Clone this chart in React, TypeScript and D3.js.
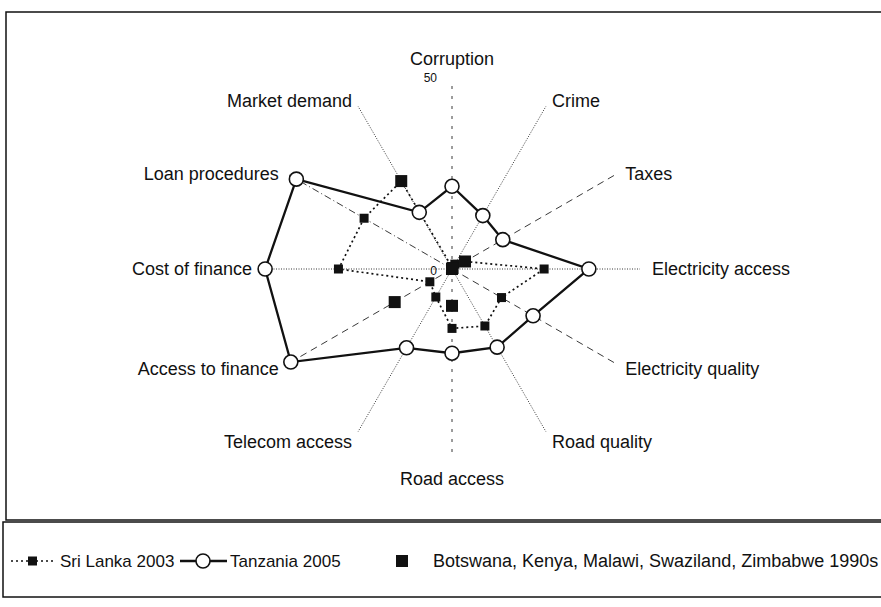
import React from 'react';
import * as d3 from 'd3';

// categories clockwise from the top
const categories = [
  'Corruption', 'Crime', 'Taxes', 'Electricity access', 'Electricity quality', 'Road quality',
  'Road access', 'Telecom access', 'Access to finance', 'Cost of finance', 'Loan procedures', 'Market demand',
];
const sriLanka = [0.5, 1.5, 4, 24.5, 15.2, 17.5, 15.8, 8.6, 6.8, 30.2, 27, 27];
const tanzania = [22, 16.4, 15.6, 36.4, 24.9, 24, 22.4, 24.2, 49.5, 49.7, 47.8, 17.4];
const africa = [0, 0.3, 4, 0, 0, 0, 9.8, 0, 17.6, 0, 0, 27];
const axisMax = 50;

const legendLabels = ['Sri Lanka 2003', 'Tanzania 2005', 'Botswana, Kenya, Malawi, Swaziland, Zimbabwe 1990s'];

// each spoke has its own line style in the original
const spokeDash = ['3,7', '1,1.5', '7,5', '1,1.5', '7,5', '1,1.5', '3,7', '1,1.5', '7,5', '1,1.5', '7,3,1,3', '1,1.5'];

const W = 881, H = 607;
const cx = 452, cy = 269, R = 188;
const font = '"Liberation Sans", Arial, sans-serif';

export default function App() {
  const r = d3.scaleLinear().domain([0, axisMax]).range([0, R]);
  const step = (2 * Math.PI) / categories.length;
  const ang = (i: number) => i * step;
  const px = (i: number, v: number) => cx + r(v) * Math.sin(ang(i));
  const py = (i: number, v: number) => cy - r(v) * Math.cos(ang(i));

  const radar = d3.lineRadial<number>()
    .angle((d, i) => ang(i))
    .radius(d => r(d))
    .curve(d3.curveLinearClosed);

  return (
    <svg width={W} height={H} style={{ position: 'absolute', left: 0, top: 0, background: '#fff' }}
      fontFamily={font}>
      {/* frames */}
      <rect x={6} y={12} width={900} height={508} fill="none" stroke="#111" strokeWidth={1.5} />
      <rect x={3} y={522} width={900} height={75} fill="none" stroke="#111" strokeWidth={1.5} />

      {/* spokes */}
      {categories.map((c, i) => (
        <line key={c} x1={cx} y1={cy} x2={px(i, axisMax)} y2={py(i, axisMax)}
          stroke="#222" strokeWidth={0.9} strokeDasharray={spokeDash[i]} />
      ))}

      {/* category labels */}
      {categories.map((c, i) => {
        const s = Math.sin(ang(i)), co = Math.cos(ang(i));
        if (Math.abs(s) < 0.01) {
          return (
            <text key={c} x={cx} y={cy - co * (R + 22)} textAnchor="middle" dominantBaseline="central"
              fontSize={18} fill="#111">{c}</text>
          );
        }
        const lr = R + 12;
        return (
          <text key={c} x={cx + s * lr} y={cy - co * lr + (co > 0.1 ? 5 : 0)}
            textAnchor={s > 0 ? 'start' : 'end'} dominantBaseline="central" fontSize={18} fill="#111">{c}</text>
        );
      })}

      {/* radial tick labels */}
      <text x={437} y={py(0, axisMax) - 3} textAnchor="end" dominantBaseline="central" fontSize={12} fill="#111">{axisMax}</text>
      <text x={437} y={cy + 2} textAnchor="end" dominantBaseline="central" fontSize={12} fill="#111">0</text>

      {/* series lines */}
      <g transform={`translate(${cx},${cy})`}>
        <path d={radar(sriLanka) || ''} fill="none" stroke="#111" strokeWidth={1.7} strokeDasharray="2,3" />
        <path d={radar(tanzania) || ''} fill="none" stroke="#111" strokeWidth={2.3} />
      </g>
      {sriLanka.map((v, i) => (
        <rect key={'s' + i} x={px(i, v) - 4.5} y={py(i, v) - 4.5} width={9} height={9} fill="#111" />
      ))}
      {africa.map((v, i) => (
        <rect key={'a' + i} x={px(i, v) - 6} y={py(i, v) - 6} width={12} height={12} fill="#111" />
      ))}
      {tanzania.map((v, i) => (
        <circle key={'t' + i} cx={px(i, v)} cy={py(i, v)} r={7} fill="#fff" stroke="#111" strokeWidth={1.6} />
      ))}

      {/* legend */}
      <g fontSize={17} fill="#111">
        <line x1={11} x2={55} y1={561} y2={561} stroke="#111" strokeWidth={1.7} strokeDasharray="2,3" />
        <rect x={28} y={556.5} width={9} height={9} fill="#111" />
        <text x={60} y={561} dominantBaseline="central">{legendLabels[0]}</text>
        <line x1={180} x2={227} y1={561} y2={561} stroke="#111" strokeWidth={2.3} />
        <circle cx={203} cy={561} r={7} fill="#fff" stroke="#111" strokeWidth={1.6} />
        <text x={230} y={561} dominantBaseline="central">{legendLabels[1]}</text>
        <rect x={396} y={555} width={12} height={12} fill="#111" />
        <text x={433} y={561} dominantBaseline="central" fontSize={18}>{legendLabels[2]}</text>
      </g>
    </svg>
  );
}
